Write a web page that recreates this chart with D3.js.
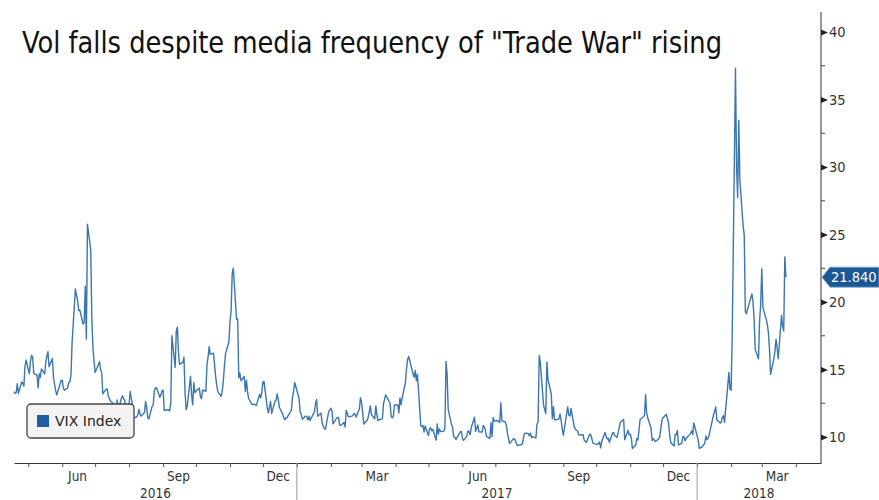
<!DOCTYPE html>
<html><head><meta charset="utf-8">
<script src="https://cdn.jsdelivr.net/npm/d3@7"></script>
<style>body{margin:0;background:#fff}svg{display:block}</style>
</head><body><svg id="c" width="879" height="500"></svg>
<script>
const titleText = 'Vol falls despite media frequency of "Trade War" rising';
const seriesName = "VIX Index";
const lastLabel = "21.840";
const yTicks = [10, 15, 20, 25, 30, 35, 40];
const yMinorTicks = [12.5, 17.5, 22.5, 27.5, 32.5, 37.5];
const quarterLabelDates = ["2016-06-15","2016-09-15","2016-12-15","2017-03-15","2017-06-15","2017-09-15","2017-12-15","2018-03-15"];
const quarterLabels = ["Jun","Sep","Dec","Mar","Jun","Sep","Dec","Mar"];
const yearLabels = ["2016","2017","2018"];
const yearStarts = ["2017-01-01","2018-01-01"];

const dates = [
"2016-04-18","2016-04-19","2016-04-20","2016-04-21","2016-04-22","2016-04-25","2016-04-26","2016-04-27","2016-04-28","2016-04-29",
"2016-05-02","2016-05-03","2016-05-04","2016-05-05","2016-05-06","2016-05-09","2016-05-10","2016-05-11","2016-05-12","2016-05-13","2016-05-16","2016-05-17","2016-05-18","2016-05-19","2016-05-20","2016-05-23","2016-05-24","2016-05-25","2016-05-26","2016-05-27","2016-05-31",
"2016-06-01","2016-06-02","2016-06-03","2016-06-06","2016-06-07","2016-06-08","2016-06-09","2016-06-10","2016-06-13","2016-06-14","2016-06-15","2016-06-16","2016-06-17","2016-06-20","2016-06-21","2016-06-22","2016-06-23","2016-06-24","2016-06-27","2016-06-28","2016-06-29","2016-06-30",
"2016-07-01","2016-07-05","2016-07-06","2016-07-07","2016-07-08","2016-07-11","2016-07-12","2016-07-13","2016-07-14","2016-07-15","2016-07-18","2016-07-19","2016-07-20","2016-07-21","2016-07-22","2016-07-25","2016-07-26","2016-07-27","2016-07-28","2016-07-29",
"2016-08-01","2016-08-02","2016-08-03","2016-08-04","2016-08-05","2016-08-08","2016-08-09","2016-08-10","2016-08-11","2016-08-12","2016-08-15","2016-08-16","2016-08-17","2016-08-18","2016-08-19","2016-08-22","2016-08-23","2016-08-24","2016-08-25","2016-08-26","2016-08-29","2016-08-30","2016-08-31",
"2016-09-01","2016-09-02","2016-09-06","2016-09-07","2016-09-08","2016-09-09","2016-09-12","2016-09-13","2016-09-14","2016-09-15","2016-09-16","2016-09-19","2016-09-20","2016-09-21","2016-09-22","2016-09-23","2016-09-26","2016-09-27","2016-09-28","2016-09-29","2016-09-30",
"2016-10-03","2016-10-04","2016-10-05","2016-10-06","2016-10-07","2016-10-10","2016-10-11","2016-10-12","2016-10-13","2016-10-14","2016-10-17","2016-10-18","2016-10-19","2016-10-20","2016-10-21","2016-10-24","2016-10-25","2016-10-26","2016-10-27","2016-10-28","2016-10-31",
"2016-11-01","2016-11-02","2016-11-03","2016-11-04","2016-11-07","2016-11-08","2016-11-09","2016-11-10","2016-11-11","2016-11-14","2016-11-15","2016-11-16","2016-11-17","2016-11-18","2016-11-21","2016-11-22","2016-11-23","2016-11-25","2016-11-28","2016-11-29","2016-11-30",
"2016-12-01","2016-12-02","2016-12-05","2016-12-06","2016-12-07","2016-12-08","2016-12-09","2016-12-12","2016-12-13","2016-12-14","2016-12-15","2016-12-16","2016-12-19","2016-12-20","2016-12-21","2016-12-22","2016-12-23","2016-12-27","2016-12-28","2016-12-29","2016-12-30",
"2017-01-03","2017-01-04","2017-01-05","2017-01-06","2017-01-09","2017-01-10","2017-01-11","2017-01-12","2017-01-13","2017-01-17","2017-01-18","2017-01-19","2017-01-20","2017-01-23","2017-01-24","2017-01-25","2017-01-26","2017-01-27","2017-01-30","2017-01-31",
"2017-02-01","2017-02-02","2017-02-03","2017-02-06","2017-02-07","2017-02-08","2017-02-09","2017-02-10","2017-02-13","2017-02-14","2017-02-15","2017-02-16","2017-02-17","2017-02-21","2017-02-22","2017-02-23","2017-02-24","2017-02-27","2017-02-28",
"2017-03-01","2017-03-02","2017-03-03","2017-03-06","2017-03-07","2017-03-08","2017-03-09","2017-03-10","2017-03-13","2017-03-14","2017-03-15","2017-03-16","2017-03-17","2017-03-20","2017-03-21","2017-03-22","2017-03-23","2017-03-24","2017-03-27","2017-03-28","2017-03-29","2017-03-30","2017-03-31",
"2017-04-03","2017-04-04","2017-04-05","2017-04-06","2017-04-07","2017-04-10","2017-04-11","2017-04-12","2017-04-13","2017-04-17","2017-04-18","2017-04-19","2017-04-20","2017-04-21","2017-04-24","2017-04-25","2017-04-26","2017-04-27","2017-04-28",
"2017-05-01","2017-05-02","2017-05-03","2017-05-04","2017-05-05","2017-05-08","2017-05-09","2017-05-10","2017-05-11","2017-05-12","2017-05-15","2017-05-16","2017-05-17","2017-05-18","2017-05-19","2017-05-22","2017-05-23","2017-05-24","2017-05-25","2017-05-26","2017-05-30","2017-05-31",
"2017-06-01","2017-06-02","2017-06-05","2017-06-06","2017-06-07","2017-06-08","2017-06-09","2017-06-12","2017-06-13","2017-06-14","2017-06-15","2017-06-16","2017-06-19","2017-06-20","2017-06-21","2017-06-22","2017-06-23","2017-06-26","2017-06-27","2017-06-28","2017-06-29","2017-06-30",
"2017-07-03","2017-07-05","2017-07-06","2017-07-07","2017-07-10","2017-07-11","2017-07-12","2017-07-13","2017-07-14","2017-07-17","2017-07-18","2017-07-19","2017-07-20","2017-07-21","2017-07-24","2017-07-25","2017-07-26","2017-07-27","2017-07-28","2017-07-31",
"2017-08-01","2017-08-02","2017-08-03","2017-08-04","2017-08-07","2017-08-08","2017-08-09","2017-08-10","2017-08-11","2017-08-14","2017-08-15","2017-08-16","2017-08-17","2017-08-18","2017-08-21","2017-08-22","2017-08-23","2017-08-24","2017-08-25","2017-08-28","2017-08-29","2017-08-30","2017-08-31",
"2017-09-01","2017-09-05","2017-09-06","2017-09-07","2017-09-08","2017-09-11","2017-09-12","2017-09-13","2017-09-14","2017-09-15","2017-09-18","2017-09-19","2017-09-20","2017-09-21","2017-09-22","2017-09-25","2017-09-26","2017-09-27","2017-09-28","2017-09-29",
"2017-10-02","2017-10-03","2017-10-04","2017-10-05","2017-10-06","2017-10-09","2017-10-10","2017-10-11","2017-10-12","2017-10-13","2017-10-16","2017-10-17","2017-10-18","2017-10-19","2017-10-20","2017-10-23","2017-10-24","2017-10-25","2017-10-26","2017-10-27","2017-10-30","2017-10-31",
"2017-11-01","2017-11-02","2017-11-03","2017-11-06","2017-11-07","2017-11-08","2017-11-09","2017-11-10","2017-11-13","2017-11-14","2017-11-15","2017-11-16","2017-11-17","2017-11-20","2017-11-21","2017-11-22","2017-11-24","2017-11-27","2017-11-28","2017-11-29","2017-11-30",
"2017-12-01","2017-12-04","2017-12-05","2017-12-06","2017-12-07","2017-12-08","2017-12-11","2017-12-12","2017-12-13","2017-12-14","2017-12-15","2017-12-18","2017-12-19","2017-12-20","2017-12-21","2017-12-22","2017-12-26","2017-12-27","2017-12-28","2017-12-29",
"2018-01-02","2018-01-03","2018-01-04","2018-01-05","2018-01-08","2018-01-09","2018-01-10","2018-01-11","2018-01-12","2018-01-16","2018-01-17","2018-01-18","2018-01-19","2018-01-22","2018-01-23","2018-01-24","2018-01-25","2018-01-26","2018-01-29","2018-01-30","2018-01-31",
"2018-02-01","2018-02-02","2018-02-05","2018-02-06","2018-02-07","2018-02-08","2018-02-09","2018-02-12","2018-02-13","2018-02-14","2018-02-15","2018-02-16","2018-02-20","2018-02-21","2018-02-22","2018-02-23","2018-02-26","2018-02-27","2018-02-28",
"2018-03-01","2018-03-02","2018-03-05","2018-03-06","2018-03-07","2018-03-08","2018-03-09","2018-03-12","2018-03-13","2018-03-14","2018-03-15","2018-03-16","2018-03-19","2018-03-20","2018-03-21","2018-03-22","2018-03-23"
];

const vix = [
13.35,13.24,13.28,13.95,13.22,14.08,13.96,13.77,15.22,15.70,
14.68,15.60,16.05,15.91,14.72,14.57,13.63,14.69,14.41,15.04,14.68,15.57,15.95,16.33,15.20,15.82,14.42,13.90,13.43,13.12,14.19,
14.20,13.63,13.47,13.65,14.05,14.08,14.64,17.03,20.97,20.50,20.14,19.37,19.41,18.37,18.48,21.17,17.25,25.76,23.85,18.75,16.64,15.63,
14.77,15.58,14.96,14.76,13.20,13.54,13.55,13.04,12.82,12.67,12.44,11.97,11.77,12.74,12.02,12.87,13.05,12.83,12.72,11.87,
12.44,13.37,12.86,12.42,11.39,11.50,11.66,12.05,11.68,11.55,11.81,12.64,12.19,11.43,11.34,12.27,12.38,13.45,13.63,13.65,12.94,13.12,13.42,
13.48,11.98,12.02,11.94,12.51,17.50,15.16,17.85,18.14,16.30,15.37,15.53,15.92,13.30,12.02,12.29,14.50,13.10,12.39,14.02,13.29,
13.57,13.63,12.99,12.84,13.48,13.38,15.36,15.91,16.69,16.12,16.21,15.28,14.41,13.75,13.34,13.02,13.46,14.24,15.36,16.19,17.06,
18.56,19.32,22.08,22.51,18.71,18.74,14.38,14.74,14.17,14.48,13.37,14.21,13.35,12.85,12.42,12.41,12.43,12.34,13.15,12.90,13.33,
14.07,14.12,12.14,11.79,12.22,12.64,11.75,12.64,12.72,13.19,12.79,12.20,11.71,11.45,11.27,11.43,11.44,11.99,12.95,13.37,14.04,
12.85,11.85,11.67,11.32,11.56,11.49,11.26,11.54,11.23,11.87,12.48,12.78,11.54,11.77,11.07,10.81,10.63,10.58,11.88,11.99,
12.14,11.93,10.97,11.37,11.45,11.45,10.88,10.85,11.07,10.74,11.97,11.76,11.49,11.57,11.74,11.71,11.47,12.09,12.92,
12.54,11.81,10.96,11.24,11.45,11.86,12.30,11.66,11.35,12.30,11.63,11.21,11.28,11.34,12.47,12.81,13.12,12.96,12.50,11.53,11.42,11.54,12.37,
12.38,11.79,12.89,12.39,12.87,14.05,15.07,15.77,15.96,14.66,14.42,14.93,14.15,14.63,10.84,10.76,10.85,10.36,10.82,
10.11,10.59,10.68,10.46,10.57,9.77,10.96,10.21,10.60,10.40,10.42,10.65,15.59,14.66,12.04,10.93,10.72,10.02,9.99,9.81,10.38,10.41,
9.89,9.75,10.07,10.45,10.39,10.16,10.70,11.46,10.42,10.64,10.90,10.38,10.37,10.86,10.75,10.48,10.02,9.90,11.06,10.03,11.44,11.18,
11.22,11.07,12.54,11.19,11.11,10.89,10.30,9.90,9.51,9.82,9.89,9.79,9.58,9.36,9.43,9.43,9.60,10.11,10.29,10.26,
10.09,10.28,9.95,10.03,9.93,10.96,11.11,16.04,15.51,12.33,12.04,11.74,15.55,14.26,13.19,11.35,12.25,11.28,11.28,11.32,11.70,11.22,10.59,
10.13,12.23,11.63,11.55,12.12,10.73,10.58,10.50,10.44,10.17,10.15,10.18,9.78,9.67,9.59,10.21,10.17,9.87,9.55,9.51,
9.45,9.51,9.63,9.19,9.65,10.33,10.08,9.85,9.91,9.61,10.31,10.31,10.07,10.05,9.97,11.07,11.16,11.23,11.30,9.80,10.50,10.18,
10.20,9.93,9.14,9.40,9.89,9.78,10.50,11.29,11.50,11.59,13.13,11.76,11.43,10.65,9.73,9.88,9.67,9.87,10.03,10.70,11.28,
11.43,11.68,11.33,11.02,10.16,9.58,9.34,10.18,10.18,10.49,9.42,9.53,10.03,10.03,9.72,9.90,10.25,10.47,10.18,11.04,
9.77,9.15,9.22,9.22,9.52,10.08,9.82,9.88,10.16,11.66,11.91,12.22,11.27,11.03,11.10,11.47,11.58,11.08,13.84,14.79,13.54,
13.47,17.31,37.32,29.98,27.73,33.46,29.06,25.61,24.97,19.26,19.13,19.46,20.60,20.02,18.72,16.49,15.80,18.59,19.85,
22.47,19.59,18.73,18.36,17.76,16.54,14.64,15.78,16.35,17.23,16.59,15.80,19.02,18.20,17.86,23.34,21.84
];

const parse = d3.timeParse("%Y-%m-%d");
const data = dates.map((d, i) => ({ date: parse(d), v: vix[i] }));

const svg = d3.select("#c");
const left = 14, right = 821, plotTop = 12, plotBottom = 463;
const x = d3.scaleTime().domain([parse("2016-04-18"), parse("2018-04-24")]).range([left, right]);
const y = d3.scaleLinear().domain([10, 40]).range([437, 32]);
const axisFont = "'DejaVu Sans Condensed', 'DejaVu Sans', sans-serif";
const legendFont = "'DejaVu Sans', sans-serif";

// Title
svg.append("text")
  .attr("x", 22).attr("y", 53)
  .attr("font-family", axisFont)
  .attr("font-size", 31)
  .attr("fill", "#111")
  .attr("textLength", 700)
  .attr("lengthAdjust", "spacingAndGlyphs")
  .text(titleText);

// Bottom axis (month ticks)
const xAxis = d3.axisBottom(x)
  .tickValues(d3.timeMonth.range(parse("2016-05-01"), parse("2018-04-24")))
  .tickSize(4).tickSizeOuter(0).tickFormat("");
const gx = svg.append("g").attr("transform", `translate(0,${plotBottom})`).call(xAxis);
gx.select(".domain").attr("stroke", "#333");
gx.selectAll(".tick line").attr("stroke", "#555");

// Quarter labels
svg.append("g").selectAll("text").data(quarterLabels).join("text")
  .attr("x", (d, i) => x(parse(quarterLabelDates[i])))
  .attr("y", 481)
  .attr("text-anchor", "middle")
  .attr("font-family", axisFont).attr("font-size", 13.5).attr("fill", "#333")
  .text(d => d);

// Year separators and labels
const ys = yearStarts.map(parse);
svg.append("g").selectAll("line").data(ys).join("line")
  .attr("x1", d => x(d)).attr("x2", d => x(d))
  .attr("y1", plotBottom).attr("y2", 500)
  .attr("stroke", "#999").attr("stroke-width", 1);
const yearBounds = [x.range()[0], x(ys[0]), x(ys[1]), x.range()[1]];
svg.append("g").selectAll("text").data(yearLabels).join("text")
  .attr("x", (d, i) => (yearBounds[i] + yearBounds[i + 1]) / 2)
  .attr("y", 498)
  .attr("text-anchor", "middle")
  .attr("font-family", axisFont).attr("font-size", 13.5).attr("fill", "#333")
  .text(d => d);

// Right axis
svg.append("line").attr("x1", right).attr("x2", right).attr("y1", plotTop).attr("y2", plotBottom)
  .attr("stroke", "#333").attr("stroke-width", 1);
const yAxis = d3.axisRight(y).tickValues(yTicks).tickSize(0).tickPadding(0);
const gy = svg.append("g").attr("transform", `translate(${right},0)`).call(yAxis);
gy.select(".domain").remove();
gy.selectAll(".tick text")
  .attr("x", 8)
  .attr("font-family", axisFont).attr("font-size", 14.5).attr("fill", "#333");
gy.selectAll(".tick").append("path")
  .attr("d", "M0,-3 L7,0 L0,3 Z").attr("fill", "#222");
svg.append("g").selectAll("line").data(yMinorTicks).join("line")
  .attr("x1", right).attr("x2", right + 4)
  .attr("y1", d => y(d)).attr("y2", d => y(d))
  .attr("stroke", "#444");

// Line
const line = d3.line().x(d => x(d.date)).y(d => y(d.v));
svg.append("path").datum(data)
  .attr("d", line)
  .attr("fill", "none")
  .attr("stroke", "#3a76b2")
  .attr("stroke-width", 1.4)
  .attr("stroke-linejoin", "round");

// Last value tag
const last = data[data.length - 1];
const ly = y(last.v);
svg.append("path")
  .attr("d", `M${right + 1},${ly} L${right + 9},${ly - 10} L879,${ly - 10} L879,${ly + 10} L${right + 9},${ly + 10} Z`)
  .attr("fill", "#1a5895").attr("stroke", "#7aa6d3").attr("stroke-width", 0.8);
svg.append("text")
  .attr("x", right + 10).attr("y", ly).attr("dy", "0.35em")
  .attr("font-family", axisFont).attr("font-size", 14.5).attr("fill", "#fff")
  .text(lastLabel);

// Legend
const lg = svg.append("g");
lg.append("rect").attr("x", 27).attr("y", 404).attr("width", 107).attr("height", 34)
  .attr("rx", 4).attr("fill", "#f3f3f3").attr("stroke", "#444").attr("stroke-width", 1.3);
lg.append("rect").attr("x", 37).attr("y", 415).attr("width", 12).attr("height", 12).attr("fill", "#1d5fa2");
lg.append("text").attr("x", 55).attr("y", 421).attr("dy", "0.35em")
  .attr("font-family", legendFont).attr("font-size", 14).attr("fill", "#222")
  .text(seriesName);
</script>
</body></html>
